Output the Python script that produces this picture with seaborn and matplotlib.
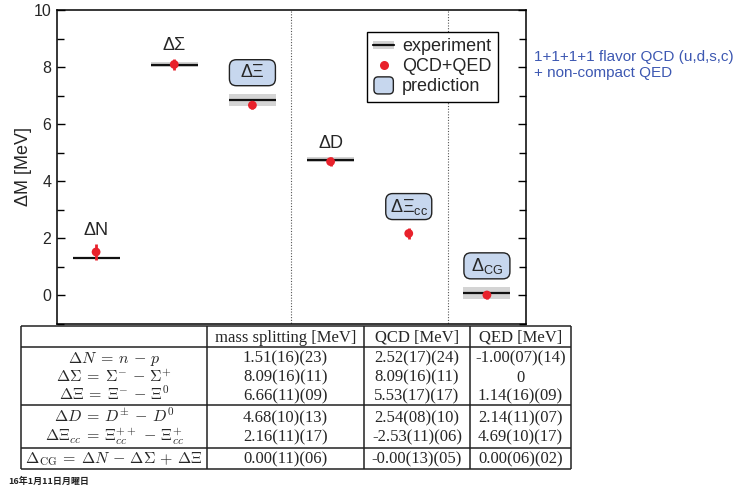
import numpy as np
import pandas as pd
import matplotlib
matplotlib.use("Agg")
import matplotlib.pyplot as plt
import matplotlib.transforms as mtransforms
from matplotlib.patches import FancyBboxPatch, Rectangle
from matplotlib.lines import Line2D
from matplotlib.legend_handler import HandlerBase
import seaborn as sns

# ---------------------------------------------------------------- data
channels = ["ΔN", "ΔΣ", "ΔΞ", "ΔD", "ΔΞ$_{\\mathregular{cc}}$", "Δ$_{\\mathregular{CG}}$"]
is_prediction = [False, False, True, False, True, True]

# experimental isospin splittings [MeV] (NaN: not measured)
experiment_value = [1.293, 8.08, 6.85, 4.75, np.nan, 0.063]
experiment_error = [0.0, 0.08, 0.21, 0.08, np.nan, 0.22]

# table contents
header = ["", "mass splitting [MeV]", "QCD [MeV]", "QED [MeV]"]
row_labels = [
    r"$\Delta N \:=\: n \,-\, p$",
    r"$\Delta\Sigma \:=\: \Sigma^{-} \,-\, \Sigma^{+}$",
    r"$\Delta\Xi \:=\: \Xi^{-} \,-\, \Xi^{0}$",
    r"$\Delta D \:=\: D^{\pm} \,-\, D^{0}$",
    r"$\Delta\Xi_{cc} \:=\: \Xi_{cc}^{++} \,-\, \Xi_{cc}^{+}$",
    r"$\Delta_{\mathrm{CG}} \:=\: \Delta N \,-\, \Delta\Sigma \,+\, \Delta\Xi$",
]
mass_splitting = ["1.51(16)(23)", "8.09(16)(11)", "6.66(11)(09)",
                  "4.68(10)(13)", "2.16(11)(17)", "0.00(11)(06)"]
qcd_part = ["2.52(17)(24)", "8.09(16)(11)", "5.53(17)(17)",
            "2.54(08)(10)", "-2.53(11)(06)", "-0.00(13)(05)"]
qed_part = ["-1.00(07)(14)", "0", "1.14(16)(09)",
            "2.14(11)(07)", "4.69(10)(17)", "0.00(06)(02)"]


def parse_quoted(s):
    """'1.51(16)(23)' -> central value and combined uncertainty."""
    central, *errs = s.replace(")", "").split("(")
    ndec = len(central.split(".")[1]) if "." in central else 0
    unc = [int(e) * 10 ** (-ndec) for e in errs]
    return float(central), float(np.sqrt(np.sum(np.square(unc))))


parsed = [parse_quoted(s) for s in mass_splitting]
df = pd.DataFrame({
    "channel": channels,
    "pos": np.arange(len(channels)),
    "lattice": [p[0] for p in parsed],
    "lattice_err": [p[1] for p in parsed],
    "exp": experiment_value,
    "exp_err": experiment_error,
    "prediction": is_prediction,
})

# ---------------------------------------------------------------- style
sns.set_theme(style="white")
plt.rcParams["font.family"] = ["Liberation Sans", "DejaVu Sans"]
plt.rcParams["axes.edgecolor"] = "black"
plt.rcParams["axes.linewidth"] = 1.1

RED = "#e8212b"
BAND = "#d4d4d4"
BOXFILL = "#c7d7ee"
BLUE = "#3d58b2"

W, H = 756, 488
fig = plt.figure(figsize=(W / 100, H / 100), dpi=100)
fig.patch.set_facecolor("white")

# ---------------------------------------------------------------- chart
ax = fig.add_axes([57 / W, 1 - 323.5 / H, 469 / W, 313.5 / H])
ax.set_xlim(-0.5, 5.5)
ax.set_ylim(-1, 10)

# experiment: grey uncertainty band with a black central line
half = 0.3
exp_df = df.dropna(subset=["exp"])
ax.bar(exp_df["pos"], 2 * exp_df["exp_err"], bottom=exp_df["exp"] - exp_df["exp_err"],
       width=2 * half, color=BAND, edgecolor="none", zorder=1)
ax.hlines(exp_df["exp"], exp_df["pos"] - half, exp_df["pos"] + half,
          color="#111111", lw=1.6, zorder=2)

# lattice QCD+QED results
ax.errorbar(df["pos"], df["lattice"], yerr=df["lattice_err"], fmt="none",
            ecolor=RED, elinewidth=2.0, capsize=0, zorder=3)
sns.scatterplot(data=df, x="pos", y="lattice", ax=ax, color=RED, s=40,
                edgecolor="none", zorder=4, legend=False)

# group separators
for xsep in (2.5, 4.5):
    ax.axvline(xsep, ymin=-0.009, ymax=1, color="#555555", lw=0.8,
               ls=(0, (1, 1.5)), clip_on=False, zorder=0)

# channel labels
for _, r in df.iterrows():
    top = np.nanmax([r["lattice"] + r["lattice_err"],
                     r["exp"] + r["exp_err"] if not np.isnan(r["exp"]) else -np.inf])
    if r["prediction"]:
        yc = top + 0.74
        trans = fig.dpi_scale_trans + mtransforms.ScaledTranslation(r["pos"], yc, ax.transData)
        bw, bh = 0.46, 0.26
        ax.add_patch(FancyBboxPatch((-bw / 2, -bh / 2), bw, bh,
                                    boxstyle="round,pad=0,rounding_size=0.07",
                                    facecolor=BOXFILL, edgecolor="#222222", lw=1.0,
                                    transform=trans, clip_on=False, zorder=5))
        ax.text(r["pos"], yc, r["channel"], ha="center", va="center",
                fontsize=13, zorder=6)
    else:
        ax.text(r["pos"], top + 0.47, r["channel"], ha="center", va="center",
                fontsize=13, zorder=6)

ax.set_xticks([])
ax.set_xlabel("")
ax.set_yticks(np.arange(0, 11, 2))
ax.set_yticks(np.arange(-1, 10, 2), minor=True)
ax.tick_params(axis="y", which="both", direction="in", left=True, right=True,
               labelsize=11.5, pad=4, color="black")
ax.tick_params(axis="y", which="major", length=6, width=1)
ax.tick_params(axis="y", which="minor", length=5, width=1)
ax.set_ylabel("ΔM [MeV]", fontsize=13, labelpad=1)
for s in ax.spines.values():
    s.set_visible(True)
    s.set_color("black")


class ExperimentKey(Rectangle):
    pass


class PredictionKey(Rectangle):
    pass


class HandlerExperiment(HandlerBase):
    def create_artists(self, legend, orig_handle, xdescent, ydescent,
                       width, height, fontsize, trans):
        bh = 0.7 * height
        y0 = -ydescent + (height - bh) / 2
        band = Rectangle((-xdescent, y0), width, bh, facecolor=BAND,
                         edgecolor="none", transform=trans)
        line = Line2D([-xdescent, -xdescent + width],
                      [y0 + bh / 2, y0 + bh / 2], color="#111111", lw=1.6,
                      transform=trans)
        return [band, line]


class HandlerRoundBox(HandlerBase):
    def create_artists(self, legend, orig_handle, xdescent, ydescent,
                       width, height, fontsize, trans):
        p = FancyBboxPatch((-xdescent + 0.5, -ydescent - 0.2 * height),
                           width - 1, height * 1.35,
                           boxstyle="round,pad=0,rounding_size=3",
                           facecolor=BOXFILL, edgecolor="#222222", lw=1.0,
                           transform=trans)
        return [p]


h_exp = ExperimentKey((0, 0), 1, 1)
h_lat = Line2D([], [], ls="none", marker="o", markersize=6.5,
               markerfacecolor=RED, markeredgecolor="none")
h_pred = PredictionKey((0, 0), 1, 1)
leg = ax.legend([h_exp, h_lat, h_pred], ["experiment", "QCD+QED", "prediction"],
                handler_map={ExperimentKey: HandlerExperiment(),
                             PredictionKey: HandlerRoundBox()},
                loc="upper right", bbox_to_anchor=(0.940, 0.930),
                borderaxespad=0, fontsize=13, frameon=True, fancybox=False,
                edgecolor="black", framealpha=1, handlelength=1.15,
                handletextpad=0.45, labelspacing=0.17, borderpad=0.35)
leg.get_frame().set_linewidth(1.0)
leg.set_zorder(10)

fig.text(534 / W, 1 - 49.5 / H, "1+1+1+1 flavor QCD (u,d,s,c)\n+ non-compact QED",
         color=BLUE, fontsize=11, ha="left", va="top", linespacing=1.25)

# ---------------------------------------------------------------- table
tab = fig.add_axes([0, 0, 1, 1], zorder=-1)
tab.set_xlim(0, W)
tab.set_ylim(H, 0)
tab.set_axis_off()

col_edges = [21, 207, 364, 470, 571]
row_edges = [326, 347, 405, 448, 469]
row_baselines = [362.5, 381.5, 400, 422, 441, 463.5]
header_baseline = 341.5
LINE = "#222222"

tab.hlines(row_edges, col_edges[0], col_edges[-1], color=LINE, lw=1.1)
tab.vlines(col_edges, row_edges[0], row_edges[-1], color=LINE, lw=1.1)

col_mid = [(a + b) / 2 for a, b in zip(col_edges[:-1], col_edges[1:])]
serif = dict(family=["Liberation Serif", "DejaVu Serif"], fontsize=12)
for cx, txt in zip(col_mid, header):
    tab.text(cx, header_baseline, txt, ha="center", va="baseline", **serif)
for i, yb in enumerate(row_baselines):
    tab.text(col_mid[0], yb, row_labels[i], ha="center", va="baseline",
             fontsize=11.5, math_fontfamily="cm")
    for cx, col in zip(col_mid[1:], (mass_splitting, qcd_part, qed_part)):
        tab.text(cx, yb, col[i], ha="center", va="baseline", **serif)

fig.text(8 / W, 1 - 481 / H, "16年1月11日月曜日", fontsize=6.5, fontweight="bold",
         family=["Noto Sans CJK JP", "DejaVu Sans"], ha="left", va="center",
         color="#222222")

fig.savefig("out.png", dpi=100, facecolor="white")
